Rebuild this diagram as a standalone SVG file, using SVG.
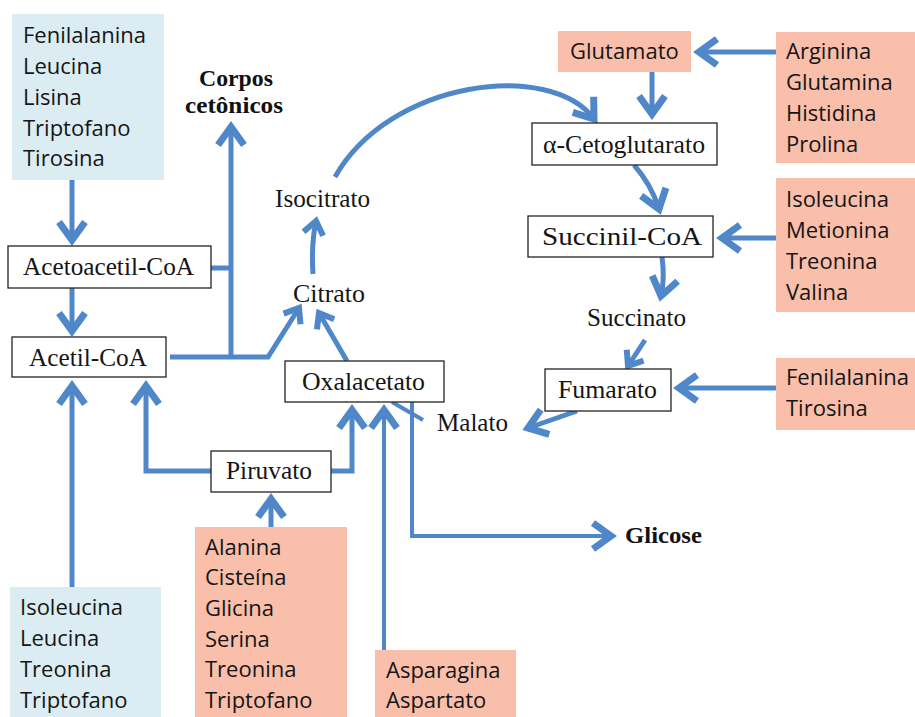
<svg xmlns="http://www.w3.org/2000/svg" width="915" height="717" viewBox="0 0 915 717">
<style>
.bl{fill:#dbedf3}
.sa{fill:#f9bfab}
.bx{fill:#fff;stroke:#222;stroke-width:1.3}
.s{font-family:"Open Sans","Liberation Sans",sans-serif;font-size:22px;fill:#151515}
.r{font-family:"Liberation Serif",serif;font-size:25px;fill:#151515}
.b{font-family:"Liberation Serif",serif;font-size:23px;font-weight:bold;fill:#111}
.c{fill:none;stroke:#4f87c9;stroke-width:5}
.t{stroke-width:4}
.h{marker-end:url(#ah)}
.hs{marker-end:url(#as)}
</style>
<defs>
<marker id="ah" markerUnits="userSpaceOnUse" viewBox="-26 -18 36 36" refX="0" refY="0" markerWidth="36" markerHeight="36" orient="auto">
<path d="M-18,-13 L0,0 L-18,13" fill="none" stroke="#4f87c9" stroke-width="7"/>
</marker>
<marker id="as" markerUnits="userSpaceOnUse" viewBox="-20 -14 28 28" refX="0" refY="0" markerWidth="28" markerHeight="28" orient="auto">
<path d="M-13,-10 L0,0 L-13,10" fill="none" stroke="#4f87c9" stroke-width="6"/>
</marker>
</defs>

<g id="connectors">
<path class="c h" d="M72,180 V240"/>
<path class="c h" d="M72,288 V331"/>
<path class="c h" d="M72,587 V386"/>
<path class="c h" d="M211,471 H146 V386"/>
<path class="c h" d="M271,527 V499"/>
<path class="c h" d="M331,471 H352 V410"/>
<path class="c t h" d="M384,650 V410"/>
<path class="c t h" d="M412,402 V536 H611"/>
<path class="c" d="M211,268 H231"/>
<path class="c h" d="M231,357 V127"/>
<path class="c hs" d="M170,357 H268 L299,308"/>
<path class="c hs" d="M347,361 L319,313"/>
<path class="c hs" d="M313,274 Q311,245 316,221"/>
<path class="c h" d="M335,177 C390,80 550,60 594,119"/>
<path class="c h" d="M652,72 V114"/>
<path class="c h" d="M776,52 H699"/>
<path class="c h" d="M634,165 Q651,184 659,209"/>
<path class="c h" d="M776,238 H722"/>
<path class="c h" d="M662,257 Q665,278 661,296"/>
<path class="c hs" d="M645,340 L628,366"/>
<path class="c h" d="M776,388 H679"/>
<path class="c h" d="M577,411 L528,428"/>
<path class="c t" d="M423,420 L392,402"/>
</g>

<g id="src-ketogenic-top">
<rect class="bl" x="12" y="14" width="152" height="166"/>
<text class="s" x="23" y="43">Fenilalanina</text>
<text class="s" x="23" y="74">Leucina</text>
<text class="s" x="23" y="105">Lisina</text>
<text class="s" x="23" y="136">Triptofano</text>
<text class="s" x="23" y="166">Tirosina</text>
</g>
<g id="src-ketogenic-bottom">
<rect class="bl" x="10" y="587" width="151" height="130"/>
<text class="s" x="20" y="615">Isoleucina</text>
<text class="s" x="20" y="646">Leucina</text>
<text class="s" x="20" y="677">Treonina</text>
<text class="s" x="20" y="708">Triptofano</text>
</g>
<g id="src-piruvato">
<rect class="sa" x="195" y="527" width="152" height="190"/>
<text class="s" x="205" y="555">Alanina</text>
<text class="s" x="205" y="585">Cisteína</text>
<text class="s" x="205" y="616">Glicina</text>
<text class="s" x="205" y="647">Serina</text>
<text class="s" x="205" y="677">Treonina</text>
<text class="s" x="205" y="708">Triptofano</text>
</g>
<g id="src-oxalacetato">
<rect class="sa" x="375" y="650" width="141" height="67"/>
<text class="s" x="386" y="678">Asparagina</text>
<text class="s" x="386" y="708">Aspartato</text>
</g>
<g id="src-glutamato">
<rect class="sa" x="776" y="32" width="139" height="131"/>
<text class="s" x="786" y="59">Arginina</text>
<text class="s" x="786" y="90">Glutamina</text>
<text class="s" x="786" y="121">Histidina</text>
<text class="s" x="786" y="152">Prolina</text>
</g>
<g id="src-succinil">
<rect class="sa" x="776" y="178" width="139" height="134"/>
<text class="s" x="786" y="207">Isoleucina</text>
<text class="s" x="786" y="238">Metionina</text>
<text class="s" x="786" y="269">Treonina</text>
<text class="s" x="786" y="300">Valina</text>
</g>
<g id="src-fumarato">
<rect class="sa" x="776" y="358" width="139" height="72"/>
<text class="s" x="786" y="385">Fenilalanina</text>
<text class="s" x="786" y="416">Tirosina</text>
</g>
<g id="glutamato">
<rect class="sa" x="558" y="31" width="133" height="41"/>
<text class="s" x="570" y="59">Glutamato</text>
</g>
<g id="acetoacetil">
<rect class="bx" x="8" y="246" width="203" height="42"/>
<text class="r" x="23" y="275" textLength="171" lengthAdjust="spacingAndGlyphs">Acetoacetil-CoA</text>
</g>
<g id="acetil">
<rect class="bx" x="12" y="337" width="154" height="40"/>
<text class="r" x="29" y="366" textLength="118" lengthAdjust="spacingAndGlyphs">Acetil-CoA</text>
</g>
<g id="corpos">
<text class="b" x="199" y="86" textLength="74" lengthAdjust="spacingAndGlyphs">Corpos</text>
<text class="b" x="185" y="113" textLength="98" lengthAdjust="spacingAndGlyphs">cetônicos</text>
</g>
<g id="isocitrato">
<text class="r" x="275" y="207" textLength="95" lengthAdjust="spacingAndGlyphs">Isocitrato</text>
</g>
<g id="citrato">
<text class="r" x="293" y="302" textLength="72" lengthAdjust="spacingAndGlyphs">Citrato</text>
</g>
<g id="oxalacetato">
<rect class="bx" x="285" y="361" width="159" height="41"/>
<text class="r" x="302" y="390" textLength="123" lengthAdjust="spacingAndGlyphs">Oxalacetato</text>
</g>
<g id="piruvato">
<rect class="bx" x="211" y="451" width="120" height="41"/>
<text class="r" x="226" y="479" textLength="86" lengthAdjust="spacingAndGlyphs">Piruvato</text>
</g>
<g id="malato">
<text class="r" x="437" y="431" textLength="71" lengthAdjust="spacingAndGlyphs">Malato</text>
</g>
<g id="glicose">
<text class="b" x="625" y="543" textLength="77" lengthAdjust="spacingAndGlyphs">Glicose</text>
</g>
<g id="cetoglutarato">
<rect class="bx" x="532" y="123" width="185" height="42"/>
<text class="r" x="543" y="153" textLength="162" lengthAdjust="spacingAndGlyphs">α-Cetoglutarato</text>
</g>
<g id="succinil">
<rect class="bx" x="528" y="216" width="185" height="41"/>
<text class="r" x="542" y="245" textLength="160" lengthAdjust="spacingAndGlyphs">Succinil-CoA</text>
</g>
<g id="succinato">
<text class="r" x="587" y="326" textLength="99" lengthAdjust="spacingAndGlyphs">Succinato</text>
</g>
<g id="fumarato">
<rect class="bx" x="545" y="369" width="126" height="42"/>
<text class="r" x="558" y="398" textLength="99" lengthAdjust="spacingAndGlyphs">Fumarato</text>
</g>
</svg>
